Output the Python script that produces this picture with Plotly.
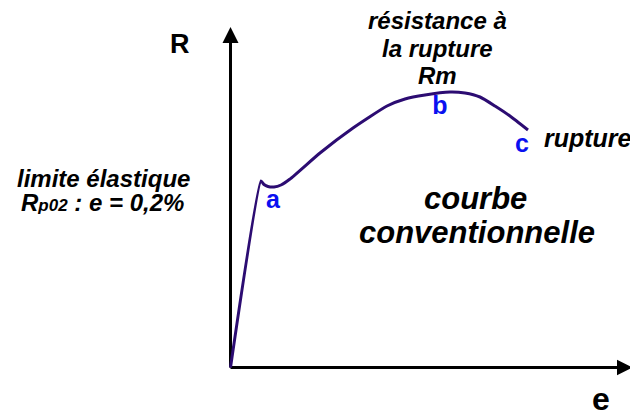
import plotly.graph_objects as go

# Conventional tensile curve (arbitrary units): strain e, stress R
strain = [0.000, 0.305, 0.335, 0.375, 0.435, 0.505, 0.595, 0.895, 1.225, 1.565, 1.745, 1.945, 2.195, 2.345, 2.495, 2.645, 2.795, 2.975]
stress = [0.000, 1.865, 1.830, 1.810, 1.805, 1.825, 1.885, 2.145, 2.395, 2.615, 2.685, 2.725, 2.755, 2.745, 2.705, 2.615, 2.515, 2.375]

point_names = ["a", "b", "c"]
point_e = [0.425, 2.095, 2.915]
point_R = [1.655, 2.595, 2.215]

# axis extents (data units)
x_range = [-2.225, 4.075]
y_range = [-0.455, 3.595]
axis_tip_e = 4.02
axis_tip_R = 3.405

font_family = "Arial, Liberation Sans, sans-serif"
curve_color = "#2C0C72"
blue = "#0A10F0"

fig = go.Figure()

# axes lines
fig.add_trace(go.Scatter(x=[0, 0], y=[0, axis_tip_R - 0.14], mode="lines",
                         line=dict(color="black", width=3), hoverinfo="skip", showlegend=False))
fig.add_trace(go.Scatter(x=[0, axis_tip_e - 0.14], y=[0, 0], mode="lines",
                         line=dict(color="black", width=3), hoverinfo="skip", showlegend=False))
# arrow heads
fig.add_shape(type="path", xref="x", yref="y",
              path=f"M -0.08 {axis_tip_R-0.16} L 0.08 {axis_tip_R-0.16} L 0 {axis_tip_R} Z",
              fillcolor="black", line=dict(color="black", width=0))
fig.add_shape(type="path", xref="x", yref="y",
              path=f"M {axis_tip_e-0.155} -0.077 L {axis_tip_e-0.155} 0.077 L {axis_tip_e} 0 Z",
              fillcolor="black", line=dict(color="black", width=0))

# curve
fig.add_trace(go.Scatter(x=strain, y=stress, mode="lines",
                         line=dict(color=curve_color, width=3, shape="spline", smoothing=0.5),
                         hoverinfo="skip", showlegend=False))

# point labels
fig.add_trace(go.Scatter(x=point_e, y=point_R, mode="text", text=point_names,
                         textfont=dict(family=font_family, size=25, color=blue, weight="bold"),
                         hoverinfo="skip", showlegend=False))

def txt(x, y, s, size, italic=True, xanchor="center"):
    fig.add_annotation(x=x, y=y, xref="x", yref="y", text=s, showarrow=False,
                       xanchor=xanchor, yanchor="middle",
                       font=dict(family=font_family, size=size, color="black",
                                 weight="bold", style="italic" if italic else "normal"))

txt(-0.505, 3.235, "<b>R</b>", 27, italic=False)
txt(3.705, -0.31, "<b>e</b>", 32, italic=False)
txt(2.065, 3.475, "résistance à", 24)
txt(2.065, 3.195, "la rupture", 24)
txt(2.065, 2.925, "Rm", 24)
txt(3.11, 2.295, "rupture", 25, xanchor="left")
txt(-1.27, 1.895, "limite élastique", 24)
txt(-1.28, 1.655, "R<span style='font-size:17px'>p02</span> : e = 0,2%", 24)
txt(2.445, 1.695, "courbe", 31)
txt(2.46, 1.355, "conventionnelle", 31)

fig.update_layout(
    width=630, height=405, margin=dict(l=0, r=0, t=0, b=0),
    paper_bgcolor="white", plot_bgcolor="white",
    xaxis=dict(range=x_range, visible=False, fixedrange=True),
    yaxis=dict(range=y_range, visible=False, fixedrange=True),
)

fig.write_html("out.html")
